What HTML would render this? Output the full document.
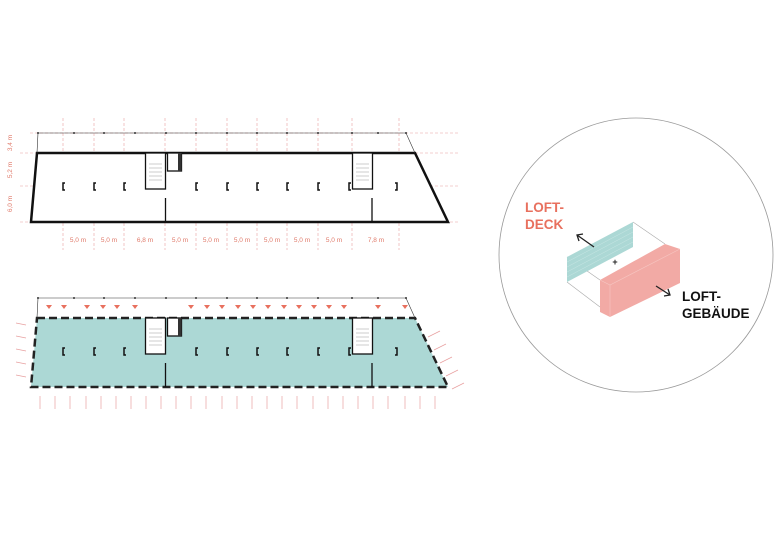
<!DOCTYPE html>
<html><head><meta charset="utf-8"><style>
html,body{margin:0;padding:0;background:#fff;}
svg{display:block;font-family:"Liberation Sans",sans-serif;}
</style></head><body>
<svg width="780" height="551" viewBox="0 0 780 551" xmlns="http://www.w3.org/2000/svg">
<defs>
<g id="plan">
  <polyline points="37,153 38,133 406,133 415,153" fill="none" stroke="#333" stroke-width="0.6"/>
  <g fill="#333">
    <circle cx="38" cy="133" r="1"/><circle cx="74" cy="133" r="1"/><circle cx="104" cy="133" r="1"/><circle cx="135" cy="133" r="1"/><circle cx="166" cy="133" r="1"/><circle cx="196" cy="133" r="1"/><circle cx="227" cy="133" r="1"/><circle cx="257" cy="133" r="1"/><circle cx="287" cy="133" r="1"/><circle cx="318" cy="133" r="1"/><circle cx="352" cy="133" r="1"/><circle cx="378" cy="133" r="1"/><circle cx="406" cy="133" r="1"/>
  </g>
  <rect x="145.5" y="153" width="20" height="36" fill="#fff" stroke="#111" stroke-width="1.3"/>
  <rect x="352.5" y="153" width="20" height="36" fill="#fff" stroke="#111" stroke-width="1.3"/>
  <g stroke="#999" stroke-width="0.5">
    <line x1="149" y1="164" x2="162" y2="164"/><line x1="149" y1="168" x2="162" y2="168"/><line x1="149" y1="172" x2="162" y2="172"/><line x1="149" y1="176" x2="162" y2="176"/><line x1="149" y1="180" x2="162" y2="180"/>
    <line x1="356" y1="164" x2="369" y2="164"/><line x1="356" y1="168" x2="369" y2="168"/><line x1="356" y1="172" x2="369" y2="172"/><line x1="356" y1="176" x2="369" y2="176"/><line x1="356" y1="180" x2="369" y2="180"/>
  </g>
  <rect x="167.5" y="153" width="14" height="18" fill="#fff" stroke="#111" stroke-width="1.3"/>
  <rect x="178" y="153" width="3.5" height="18" fill="#333"/>
  <line x1="165.5" y1="198" x2="165.5" y2="222" stroke="#111" stroke-width="1.3"/>
  <line x1="372" y1="198" x2="372" y2="222" stroke="#111" stroke-width="1.3"/>
  <g fill="none" stroke="#111" stroke-width="1.5">
    <path d="M65,183 h-2 v7 h2"/><path d="M96,183 h-2 v7 h2"/><path d="M126,183 h-2 v7 h2"/><path d="M198,183 h-2 v7 h2"/><path d="M229,183 h-2 v7 h2"/><path d="M259,183 h-2 v7 h2"/><path d="M289,183 h-2 v7 h2"/><path d="M320,183 h-2 v7 h2"/><path d="M351,183 h-2 v7 h2"/><path d="M395,183 h2 v7 h-2"/>
  </g>
</g>
</defs>

<g stroke="#e8a0a0" stroke-width="0.6" stroke-dasharray="3,2" fill="none">
  <line x1="30" y1="133" x2="458" y2="133"/><line x1="20" y1="153" x2="458" y2="153"/><line x1="20" y1="186" x2="458" y2="186"/><line x1="20" y1="222" x2="458" y2="222"/>
  <line x1="63" y1="118" x2="63" y2="250"/><line x1="94" y1="118" x2="94" y2="250"/><line x1="124" y1="118" x2="124" y2="250"/><line x1="165" y1="118" x2="165" y2="250"/><line x1="196" y1="118" x2="196" y2="250"/><line x1="227" y1="118" x2="227" y2="250"/><line x1="257" y1="118" x2="257" y2="250"/><line x1="287" y1="118" x2="287" y2="250"/><line x1="318" y1="118" x2="318" y2="250"/><line x1="352" y1="118" x2="352" y2="250"/><line x1="399" y1="118" x2="399" y2="250"/>
</g>
<polygon points="37,153 415,153 448,222 31,222" fill="#fff" stroke="#111" stroke-width="2.5"/>
<use href="#plan"/>
<g fill="#e07a6a" font-size="6.5" text-anchor="middle">
  <text x="78" y="242">5,0 m</text><text x="109" y="242">5,0 m</text><text x="145" y="242">6,8 m</text><text x="180" y="242">5,0 m</text><text x="211" y="242">5,0 m</text><text x="242" y="242">5,0 m</text><text x="272" y="242">5,0 m</text><text x="302" y="242">5,0 m</text><text x="334" y="242">5,0 m</text><text x="376" y="242">7,8 m</text>
  <text transform="translate(12,143) rotate(-90)">3,4 m</text>
  <text transform="translate(12,170) rotate(-90)">5,2 m</text>
  <text transform="translate(12,204) rotate(-90)">6,0 m</text>
</g>

<g transform="translate(0,165)">
  <polygon points="37,153 415,153 448,222 31,222" fill="#acd8d5" stroke="#222" stroke-width="2.5" stroke-dasharray="8,4"/>
  <use href="#plan"/>
  <g fill="#e8705e">
    <path d="M46,140h6l-3,4z"/><path d="M61,140h6l-3,4z"/><path d="M84,140h6l-3,4z"/><path d="M100,140h6l-3,4z"/><path d="M114,140h6l-3,4z"/><path d="M132,140h6l-3,4z"/><path d="M188,140h6l-3,4z"/><path d="M204,140h6l-3,4z"/><path d="M219,140h6l-3,4z"/><path d="M235,140h6l-3,4z"/><path d="M250,140h6l-3,4z"/><path d="M265,140h6l-3,4z"/><path d="M281,140h6l-3,4z"/><path d="M296,140h6l-3,4z"/><path d="M311,140h6l-3,4z"/><path d="M326,140h6l-3,4z"/><path d="M341,140h6l-3,4z"/><path d="M375,140h6l-3,4z"/><path d="M402,140h6l-3,4z"/>
  </g>
  <g stroke="#e8a0a0" stroke-width="0.7">
    <line x1="16" y1="158" x2="26" y2="160"/><line x1="16" y1="171" x2="26" y2="173"/><line x1="16" y1="184" x2="26" y2="186"/><line x1="16" y1="197" x2="26" y2="199"/><line x1="16" y1="210" x2="26" y2="212"/>
    <line x1="428" y1="172" x2="440" y2="166"/><line x1="434" y1="185" x2="446" y2="179"/><line x1="440" y1="198" x2="452" y2="192"/><line x1="446" y1="211" x2="458" y2="205"/><line x1="452" y1="224" x2="464" y2="218"/>
  </g>
  <g stroke="#e8a0a0" stroke-width="0.7">
    <line x1="40" y1="231" x2="40" y2="244"/><line x1="55" y1="231" x2="55" y2="244"/><line x1="70" y1="231" x2="70" y2="244"/><line x1="86" y1="231" x2="86" y2="244"/><line x1="101" y1="231" x2="101" y2="244"/><line x1="116" y1="231" x2="116" y2="244"/><line x1="131" y1="231" x2="131" y2="244"/><line x1="146" y1="231" x2="146" y2="244"/><line x1="161" y1="231" x2="161" y2="244"/><line x1="176" y1="231" x2="176" y2="244"/><line x1="191" y1="231" x2="191" y2="244"/><line x1="206" y1="231" x2="206" y2="244"/><line x1="222" y1="231" x2="222" y2="244"/><line x1="237" y1="231" x2="237" y2="244"/><line x1="252" y1="231" x2="252" y2="244"/><line x1="267" y1="231" x2="267" y2="244"/><line x1="282" y1="231" x2="282" y2="244"/><line x1="297" y1="231" x2="297" y2="244"/><line x1="313" y1="231" x2="313" y2="244"/><line x1="328" y1="231" x2="328" y2="244"/><line x1="343" y1="231" x2="343" y2="244"/><line x1="358" y1="231" x2="358" y2="244"/><line x1="373" y1="231" x2="373" y2="244"/><line x1="388" y1="231" x2="388" y2="244"/><line x1="405" y1="231" x2="405" y2="244"/><line x1="420" y1="231" x2="420" y2="244"/><line x1="435" y1="231" x2="435" y2="244"/>
  </g>
</g>

<circle cx="636" cy="255" r="137" fill="none" stroke="#999" stroke-width="0.8"/>
<g stroke="#aaa" stroke-width="0.6" fill="none">
  <polyline points="567,282 600,307"/>
  <polyline points="567,257 600,280"/>
  <polyline points="633,222 665,244"/>
</g>
<polygon points="567,257 633,222 633,247 567,282" fill="#acd8d5"/>
<g stroke="#c8e6e4" stroke-width="0.5">
  <line x1="567" y1="262" x2="633" y2="227"/><line x1="567" y1="267" x2="633" y2="232"/><line x1="567" y1="272" x2="633" y2="237"/><line x1="567" y1="277" x2="633" y2="242"/>
</g>
<polygon points="600,280 665,244 680,249 680,283 610,317 600,312" fill="#f2aaa5"/>
<g stroke="#f6c6c2" stroke-width="0.6" fill="none">
  <polyline points="600,280 610,285 680,249"/><line x1="610" y1="285" x2="610" y2="317"/>
</g>
<text x="615" y="265" font-size="9" font-weight="bold" text-anchor="middle" fill="#222">+</text>
<g stroke="#222" stroke-width="1.3" fill="none">
  <line x1="594" y1="247" x2="577" y2="235"/><polyline points="583,234 577,235 579,241"/>
  <line x1="656" y1="286" x2="670" y2="295"/><polyline points="664,296 670,295 668,289"/>
</g>
<g font-size="13.5" font-weight="bold">
  <text x="525" y="212" fill="#e8705e">LOFT-</text>
  <text x="525" y="229" fill="#e8705e">DECK</text>
  <text x="682" y="301" fill="#111">LOFT-</text>
  <text x="682" y="318" fill="#111">GEBÄUDE</text>
</g>
</svg>
</body></html>
